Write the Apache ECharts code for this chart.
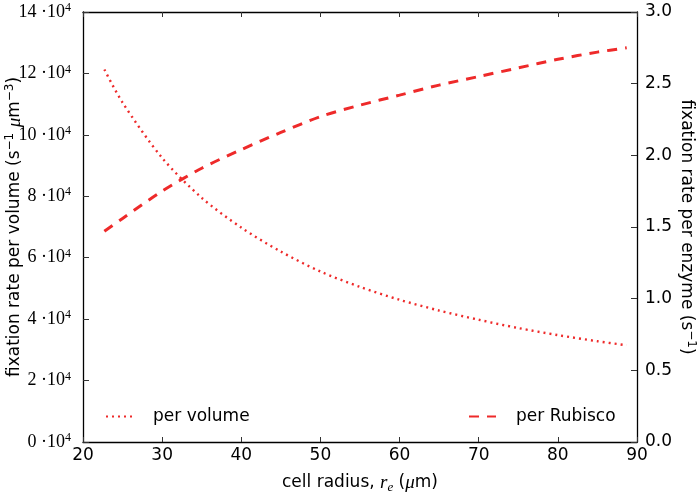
<!DOCTYPE html>
<html>
<head>
<meta charset="utf-8">
<script src="https://cdn.jsdelivr.net/npm/echarts@6/dist/echarts.min.js"></script>
<style>html,body{margin:0;padding:0;background:#fff}#c{width:700px;height:493px}</style>
</head>
<body>
<div id="c"></div>
<script>
// cell radius r_e (µm)
const radius = [22.7, 25, 30, 35, 40, 45, 50, 55, 60, 65, 70, 75, 80, 85, 88.7];
// fixation rate per volume (s^-1 µm^-3), in units of 10^4
const perVolume = [12.13, 11.05, 9.25, 7.95, 6.98, 6.20, 5.55, 5.05, 4.63, 4.28, 3.98, 3.71, 3.48, 3.28, 3.15];
// fixation rate per enzyme (s^-1)
const perRubisco = [1.47, 1.56, 1.75, 1.91, 2.04, 2.16, 2.27, 2.35, 2.42, 2.49, 2.55, 2.61, 2.67, 2.72, 2.75];
const xTicks = [20, 30, 40, 50, 60, 70, 80, 90];
const leftTicks = [0, 2, 4, 6, 8, 10, 12, 14];
const rightTicks = [0.0, 0.5, 1.0, 1.5, 2.0, 2.5, 3.0];

const RED = '#ee2a2a';
const SANS = 'DejaVu Sans';
const SERIF = 'Liberation Serif';

const chart = echarts.init(document.getElementById('c'), null, {renderer: 'canvas'});
const axisLine = {show: true, onZero: false, lineStyle: {color: '#000', width: 1.3}};
const tick = (len) => ({show: true, inside: true, length: len, lineStyle: {color: '#333', width: 1}});
const legendBase = {
  top: 408, padding: 0, itemWidth: 27, itemHeight: 14, selectedMode: false,
  itemStyle: {opacity: 0},
  textStyle: {fontFamily: SANS, fontSize: 17, color: '#000', padding: [0, 0, 0, 15]}
};

chart.setOption({
  animation: false,
  backgroundColor: '#fff',
  grid: {left: 83, right: 63, top: 12, bottom: 51, containLabel: false, outerBoundsMode: 'none'},
  legend: [
    Object.assign({left: 105, data: ['per volume']}, legendBase),
    Object.assign({left: 468, data: ['per Rubisco']}, legendBase)
  ],
  xAxis: [
    {
      type: 'value', position: 'bottom', min: xTicks[0], max: xTicks[xTicks.length - 1], interval: 10,
      axisLine, axisTick: tick(5), splitLine: {show: false},
      axisLabel: {fontFamily: SANS, fontSize: 17, color: '#000', margin: 5},
      name: '{t|cell radius, }{i|r}{sub|e}{t| (}{i|μ}{t|m)}',
      nameLocation: 'middle', nameGap: 30, nameMoveOverlap: false,
      nameTextStyle: {
        rich: {
          t: {fontFamily: SANS, fontSize: 17, color: '#000', lineHeight: 22},
          i: {fontFamily: SERIF, fontStyle: 'italic', fontSize: 19, color: '#000', lineHeight: 22},
          sub: {fontFamily: SERIF, fontStyle: 'italic', fontSize: 13, color: '#000', lineHeight: 12, verticalAlign: 'bottom'}
        }
      }
    },
    {
      type: 'value', position: 'top', min: xTicks[0], max: xTicks[xTicks.length - 1], interval: 10,
      axisLine, axisTick: tick(5), axisLabel: {show: false}, splitLine: {show: false}
    }
  ],
  yAxis: [
    {
      type: 'value', position: 'left', min: 0, max: 140000, interval: 20000,
      axisLine, axisTick: tick(6), splitLine: {show: false},
      axisLabel: {
        margin: 12,
        formatter: (v) => '{n|' + (v / 1e4) + ' ·10}{s|4}',
        rich: {
          n: {fontFamily: SERIF, fontSize: 18, color: '#000', lineHeight: 20},
          s: {fontFamily: SERIF, fontSize: 12, color: '#000', lineHeight: 12, verticalAlign: 'top'}
        }
      },
      name: '{t|fixation rate per volume (s}{s|−1}{t| }{i|μ}{t|m}{s|−3}{t|)}',
      nameLocation: 'middle', nameGap: 57, nameMoveOverlap: false,
      nameTextStyle: {
        rich: {
          t: {fontFamily: SANS, fontSize: 17, color: '#000', lineHeight: 22},
          i: {fontFamily: SERIF, fontStyle: 'italic', fontSize: 19, color: '#000', lineHeight: 22},
          s: {fontFamily: SANS, fontSize: 12, color: '#000', lineHeight: 12, verticalAlign: 'top'}
        }
      }
    },
    {
      type: 'value', position: 'right', min: 0, max: 3, interval: 0.5,
      axisLine, axisTick: tick(6), splitLine: {show: false},
      axisLabel: {fontFamily: SANS, fontSize: 17, color: '#000', margin: 8, formatter: (v) => v.toFixed(1)},
      name: '{t|fixation rate per enzyme (s}{s|−1}{t|)}',
      nameLocation: 'middle', nameGap: 38, nameRotate: -90, nameMoveOverlap: false,
      nameTextStyle: {
        rich: {
          t: {fontFamily: SANS, fontSize: 17, color: '#000', lineHeight: 22},
          s: {fontFamily: SANS, fontSize: 12, color: '#000', lineHeight: 12, verticalAlign: 'top'}
        }
      }
    }
  ],
  series: [
    {
      name: 'per volume', type: 'line', xAxisIndex: 0, yAxisIndex: 0,
      data: radius.map((r, i) => [r, perVolume[i] * 1e4]),
      smooth: 0.3, symbol: 'none', showSymbol: false,
      lineStyle: {color: RED, width: 2.4, type: [2, 4]},
      itemStyle: {color: RED}
    },
    {
      name: 'per Rubisco', type: 'line', xAxisIndex: 0, yAxisIndex: 1,
      data: radius.map((r, i) => [r, perRubisco[i]]),
      smooth: 0.3, symbol: 'none', showSymbol: false,
      lineStyle: {color: RED, width: 3, type: [10, 8]},
      itemStyle: {color: RED}
    }
  ]
});
</script>
</body>
</html>
